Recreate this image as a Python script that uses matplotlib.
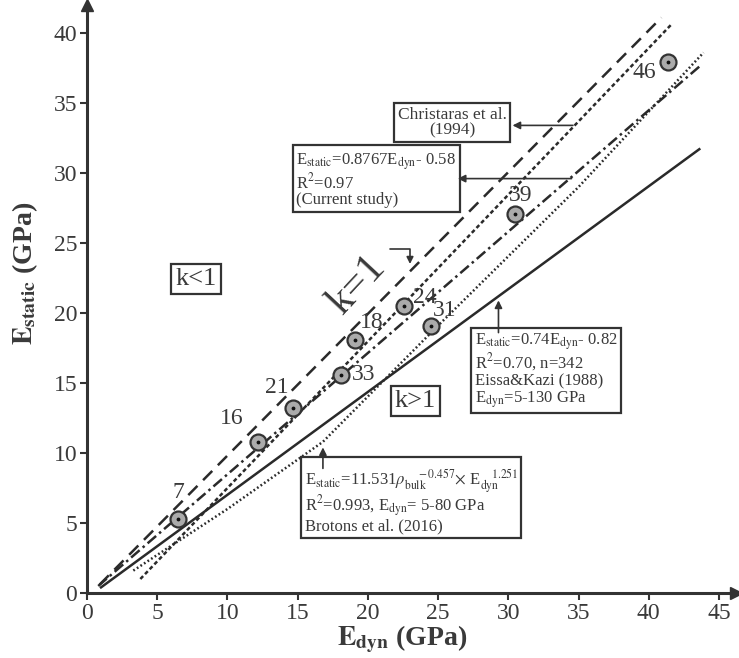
import numpy as np
import matplotlib
matplotlib.use("Agg")
import matplotlib.pyplot as plt

plt.rcParams['font.family'] = ['Liberation Serif', 'DejaVu Serif']
plt.rcParams['mathtext.fontset'] = 'stix'

# measured samples
pt_id = ["7", "16", "21", "33", "18", "24", "31", "39", "46"]
edyn = [6.5, 12.2, 14.7, 18.1, 19.1, 22.6, 24.5, 30.5, 41.4]
estatic = [5.3, 10.8, 13.2, 15.6, 18.1, 20.5, 19.1, 27.1, 37.9]

# reference lines
kone_x = [0.9, 40.9]
kone_y = [0.6, 41.1]
christ_x = [3.8, 41.6]
christ_y = [1.0, 40.6]
current_x = [0.8, 43.6]
current_y = [0.5, 37.6]
eissa_x = [1.0, 43.6]
eissa_y = [0.4, 31.7]
brotons_x = [3.3, 10.0, 16.8, 25.0, 35.0, 43.9]
brotons_y = [1.6, 6.0, 10.8, 19.1, 29.0, 38.6]

xticks = [0, 5, 10, 15, 20, 25, 30, 35, 40, 45]
yticks = [0, 5, 10, 15, 20, 25, 30, 35, 40]

ink = '#2a2a2a'
txt = '#3a3a3a'

fig = plt.figure(figsize=(7.39, 6.58), dpi=100)
ax = fig.add_axes([0.1177, 0.0988, 0.878, 0.8936])

ax.plot(kone_x, kone_y, color=ink, lw=1.8, dashes=(5.2, 3.2))
ax.plot(christ_x, christ_y, color=ink, lw=1.8, dashes=(1.6, 1.1))
ax.plot(current_x, current_y, color=ink, lw=1.8, dashes=(4.5, 1.6, 1.0, 1.6))
ax.plot(eissa_x, eissa_y, color=ink, lw=1.8)
ax.plot(brotons_x, brotons_y, color=ink, lw=1.8, dashes=(0.7, 1.0))

ax.plot(edyn, estatic, 'o', ms=11.5, mfc='#ababab', mec='#333333', mew=1.6, zorder=5)
ax.plot(edyn, estatic, '.', ms=3.5, color='#111111', zorder=6)

# label offsets in points
offs = [(0, 19), (-19, 17), (-12, 15), (16, 0), (12, 12), (15, 6), (10, 11), (4, 13), (-17, -7)]
for lab, x, y, o in zip(pt_id, edyn, estatic, offs):
    ax.annotate(lab, (x, y), xytext=o, textcoords='offset points',
                ha='center', va='center', fontsize=17, color=txt)

box = dict(boxstyle='square,pad=0.2', fc='white', ec='#333333', lw=1.6)
arr = dict(arrowstyle='-|>', color='#333333', lw=1.2, mutation_scale=11, shrinkA=0, shrinkB=0)

ax.text(26.0, 33.6, "Christaras et al.\n(1994)", ha='center', va='center',
        multialignment='center', fontsize=12.5, color=txt, bbox=box, linespacing=1.0)
ax.annotate('', xy=(30.3, 33.4), xytext=(34.6, 33.4), arrowprops=arr)

ax.text(20.6, 29.5, "E$_{\\rm static}$=0.8767E$_{\\rm dyn}$- 0.58\nR$^{2}$=0.97\n(Current study)",
        ha='center', va='center', multialignment='left', fontsize=12, color=txt,
        bbox=box, linespacing=1.0)
ax.annotate('', xy=(26.4, 29.6), xytext=(34.5, 29.6), arrowprops=arr)

ax.text(32.7, 15.9, "E$_{\\rm static}$=0.74E$_{\\rm dyn}$- 0.82\nR$^{2}$=0.70, n=342\nEissa&Kazi (1988)\nE$_{\\rm dyn}$=5-130 GPa",
        ha='center', va='center', multialignment='left', fontsize=12, color=txt,
        bbox=box, linespacing=1.0)
ax.annotate('', xy=(29.3, 20.9), xytext=(29.3, 18.6), arrowprops=arr)

ax.text(23.1, 6.6, "E$_{\\rm static}$=11.531$\\rho_{\\rm bulk}^{\\ \\ \\ \\ -0.457}$$\\times$ E$_{\\rm dyn}^{\\ \\ \\ \\ 1.251}$\nR$^{2}$=0.993, E$_{\\rm dyn}$= 5-80 GPa\nBrotons et al. (2016)",
        ha='center', va='center', multialignment='left', fontsize=12, color=txt,
        bbox=box, linespacing=0.95)
ax.annotate('', xy=(16.8, 10.4), xytext=(16.8, 8.9), arrowprops=arr)

kbox = dict(boxstyle='square,pad=0.15', fc='white', ec='#333333', lw=1.6)
ax.text(7.76, 22.4, "k<1", ha='center', va='center', fontsize=19, color=txt, bbox=kbox)
ax.text(23.4, 13.7, "k>1", ha='center', va='center', fontsize=19, color=txt, bbox=kbox)

ax.text(19.2, 22.0, "k=1", ha='center', va='center', fontsize=30, rotation=47, color=txt)
ax.annotate('', xy=(23.0, 23.5), xytext=(21.6, 24.6),
            arrowprops=dict(arrowstyle='-|>', color='#333333', lw=1.2, mutation_scale=10,
                            shrinkA=0, shrinkB=0,
                            connectionstyle='angle,angleA=0,angleB=90,rad=0'))

ax.set_xlim(0, 46.2)
ax.set_ylim(0, 42.0)
ax.set_xticks(xticks)
ax.set_yticks(yticks)
ax.tick_params(direction='out', length=5, width=1.5, color='#333333',
               labelsize=17, labelcolor=txt, pad=2)

for s in ['top', 'right']:
    ax.spines[s].set_visible(False)
for s in ['left', 'bottom']:
    ax.spines[s].set_linewidth(2.2)
    ax.spines[s].set_color('#333333')

ax.plot(1, 0, '>', color='#333333', ms=8, transform=ax.transAxes, clip_on=False)
ax.plot(0, 1, '^', color='#333333', ms=8, transform=ax.transAxes, clip_on=False)

fig.text(0.544, 0.028, "$\\mathbf{E_{dyn}}$ (GPa)", fontsize=20, fontweight='bold',
         color=txt, ha='center', va='center')
fig.text(0.034, 0.585, "$\\mathbf{E_{static}}$ (GPa)", fontsize=20, fontweight='bold',
         color=txt, ha='center', va='center', rotation=90)

fig.savefig("out.png", dpi=100)
